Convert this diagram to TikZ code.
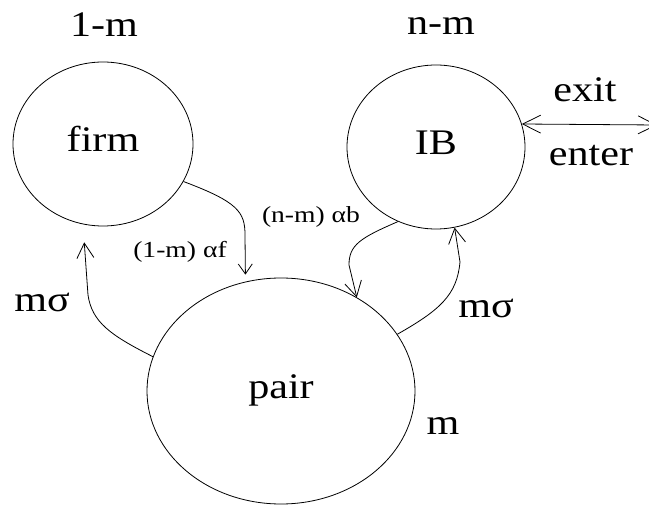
\documentclass[tikz,border=0pt]{standalone}
\usepackage{fontspec}
\setmainfont{Liberation Serif}
\usetikzlibrary{shapes.geometric,arrows.meta}
\newcommand{\sx}[1]{\scalebox{1.17}[1]{#1}}
\begin{document}
\begin{tikzpicture}[x=1pt,y=-1pt,
  state/.style={draw,ellipse,line width=0.8pt,inner sep=0pt,
     font=\fontsize{36}{42}\selectfont,text height=24pt,text depth=8pt},
  biglbl/.style={anchor=base,inner sep=0pt,font=\fontsize{36}{42}\selectfont},
  smalllbl/.style={anchor=base,inner sep=0pt,font=\fontsize{23}{27}\selectfont},
  flow/.style={line width=0.8pt,-{Straight Barb[length=15pt,width=17pt,line width=0.8pt]}},
  smallflow/.style={line width=0.8pt,-{Straight Barb[length=10pt,width=14pt,line width=0.8pt]}},
  both/.style={line width=0.8pt,{Straight Barb[length=18pt,width=18pt,line width=0.8pt]}-{Straight Barb[length=18pt,width=18pt,line width=0.8pt]}}
]
\useasboundingbox (0,0) rectangle (649,505);
\clip (0,0) rectangle (649,505);
\node[state,minimum width=180pt,minimum height=164pt] (firm) at (103,144) {\sx{firm}};
\node[state,minimum width=178pt,minimum height=164pt] (ib) at (436,147) {\sx{IB}};
\node[state,minimum width=268pt,minimum height=226pt] (pair) at (281,391) {\sx{pair}};

\node[biglbl] (lfirm) at (104,37) {\sx{1-m}};
\node[biglbl] (lib) at (441,35) {\sx{n-m}};
\node[biglbl] (lexit) at (585,102) {\sx{exit}};
\node[biglbl] (lenter) at (591,166) {\sx{enter}};
\node[biglbl] (lsigl) at (42,312) {\sx{mσ}};
\node[biglbl] (lsigr) at (486,318) {\sx{mσ}};
\node[biglbl] (lpair) at (443,435) {\sx{m}};
\node[smalllbl] (laf) at (180,258) {\scalebox{1.2}[1]{(1-m) αf}};
\node[smalllbl] (lab) at (311,223) {\scalebox{1.2}[1]{(n-m) αb}};

\coordinate (outside) at (657,125);

\draw[smallflow,shorten >=7pt] (firm.-25) .. controls (238,202) and (245,212) .. (245,235) -- (pair.108);
\draw[flow,shorten >=18pt] (pair.165) .. controls (110,335) and (92,322) .. (88,295) -- (firm.-104);
\draw[flow] (ib.-117) .. controls (360,238) and (349,245) .. (349,265) -- (pair.51);
\draw[flow] (pair.26) .. controls (440,310) and (457,295) .. (460,262) -- (ib.-77);
\draw[both] (ib.15) -- (outside);
\end{tikzpicture}
\end{document}
